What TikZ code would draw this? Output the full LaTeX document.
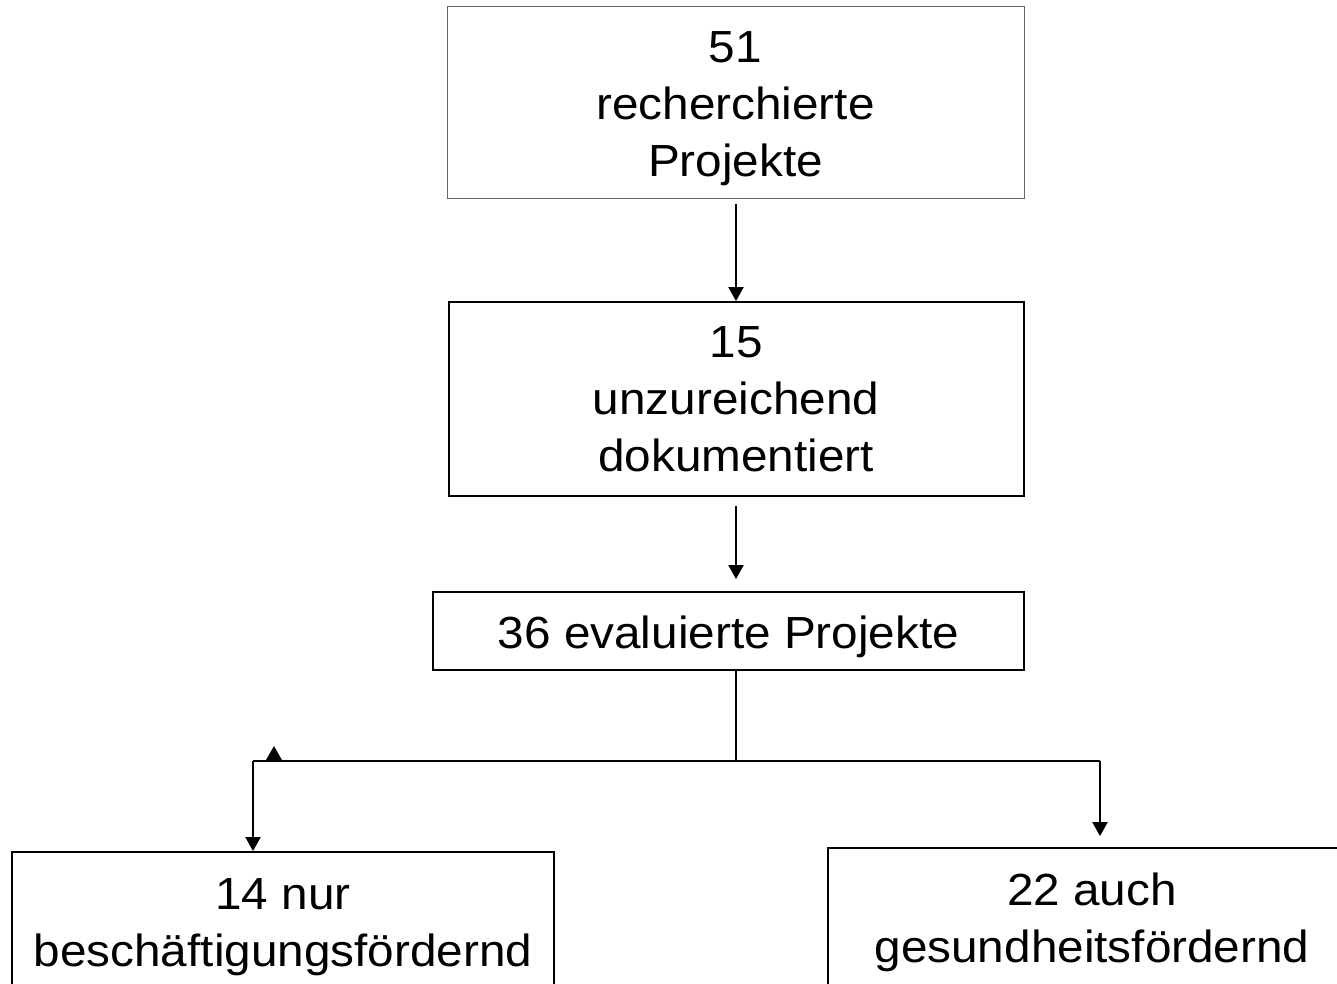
\documentclass[tikz,border=0pt]{standalone}
\usepackage{fontspec}
\setmainfont{Liberation Sans}[FakeStretch=1.06]
\usetikzlibrary{arrows.meta,calc}
\tikzset{
  box/.style={draw=black, line width=1.8pt, inner sep=0pt},
  thinbox/.style={box, draw=black!60, line width=1pt},
  txt/.style={align=center, inner sep=0pt, font=\fontsize{45}{57}\selectfont},
  arr/.style={line width=2pt, -{Triangle[width=15pt,length=14pt]}},
  ln/.style={line width=2pt},
}
\begin{document}
\begin{tikzpicture}[x=1pt,y=-1pt]
\useasboundingbox (0,0) rectangle (1337,983);
\clip (0,0) rectangle (1337,983);
% boxes
\node[thinbox, minimum width=577pt, minimum height=192pt] (b1) at (735.5,102) {};
\node[box, minimum width=575pt, minimum height=194pt] (b2) at (736.5,399) {};
\node[box, minimum width=591pt, minimum height=78pt] (b3) at (728.5,631) {};
\node[box, minimum width=542pt, minimum height=143pt] (b4) at (283,923.5) {};
\node[box, minimum width=528pt, minimum height=141pt] (b5) at (1092,918.5) {};
% texts
\node[txt] (t1) at (735.5,108.6) {51\\recherchierte\\Projekte};
\node[txt] (t2) at (736,399.2) {15\\unzureichend\\dokumentiert};
\node[txt] (t3) at (728.5,636.6) {36 evaluierte Projekte};
\node[txt] (t4) at (283,927.2) {14 nur\\beschäftigungsfördernd};
\node[txt] (t5) at (1092,922.2) {22 auch\\gesundheitsfördernd};
% connectors
\coordinate (j) at (736,761);
\coordinate (jl) at (253,761);
\coordinate (jr) at (1100,761);
\draw[arr, shorten <=5pt] (b1.south -| j) -- (b2.north -| j);
\draw[arr, shorten <=9pt, shorten >=12pt] (b2.south -| j) -- (b3.north -| j);
\draw[ln] (b3.south -| j) -- (j);
\draw[ln] (jl) -- (jr);
\draw[arr] (jl) -- (jl |- b4.north);
\draw[arr, shorten >=11pt] (jr) -- (jr |- b5.north);
\fill (266,760) -- (282,760) -- (274,746) -- cycle;
\end{tikzpicture}
\end{document}
